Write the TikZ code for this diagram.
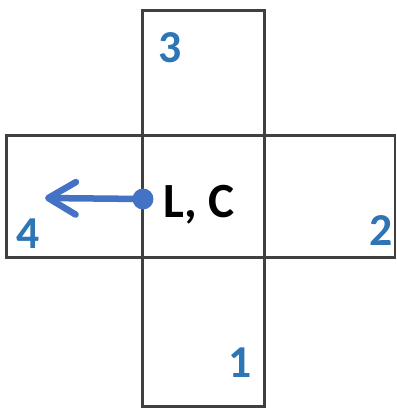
\documentclass[tikz,border=0pt]{standalone}
\usepackage{fontspec}
\setmainfont{Carlito}
\usepackage{tikz}
\usetikzlibrary{positioning, arrows.meta}
\definecolor{cellline}{RGB}{64,64,64}
\definecolor{numblue}{RGB}{46,117,182}
\definecolor{arrowblue}{RGB}{68,114,196}
\tikzset{
  cell/.style={
    rectangle, draw=cellline, line width=0.06cm,
    inner sep=0pt, outer sep=0pt,
    minimum width=2.45cm, minimum height=2.44cm
  },
  numlabel/.style={
    anchor=base, text=numblue, inner sep=0pt,
    font=\fontsize{26}{30}\selectfont\bfseries
  },
  centerlabel/.style={
    anchor=base west, text=black, inner sep=0pt,
    font=\fontsize{28}{32}\selectfont\bfseries
  },
  pivot/.style={
    circle, fill=arrowblue, inner sep=0pt, minimum size=0.42cm
  },
  pullarrow/.style={
    -{Straight Barb[length=0.55cm, width=0.65cm, round]},
    draw=arrowblue, line width=0.13cm, line cap=round
  }
}

\begin{document}
\begin{tikzpicture}
  \useasboundingbox (0,0) rectangle (7.94,-8.16);
  \node[cell] (mid) at (4.075,-3.92) {};
  \node[cell, minimum height=2.5cm, above=0pt of mid] (top) {};
  \node[cell, minimum height=2.98cm, below=0pt of mid] (bottom) {};
  \node[cell, minimum width=2.73cm, left=0pt of mid] (left) {};
  \node[cell, minimum width=2.6cm, right=0pt of mid] (right) {};

  \node[numlabel] (n3) at (3.40,-1.24) {3};
  \node[numlabel] (n4) at (0.57,-4.96) {4};
  \node[numlabel] (n2) at (7.62,-4.90) {2};
  \node[numlabel] (n1) at (4.80,-7.54) {1};
  \node[centerlabel] (lc) at (3.26,-4.34) {L, C};

  \node[pivot] (dot) at (2.86,-3.98) {};
  \coordinate (tip) at (0.90,-3.96);
  \draw[pullarrow] (dot.center) -- (tip);
\end{tikzpicture}
\end{document}
